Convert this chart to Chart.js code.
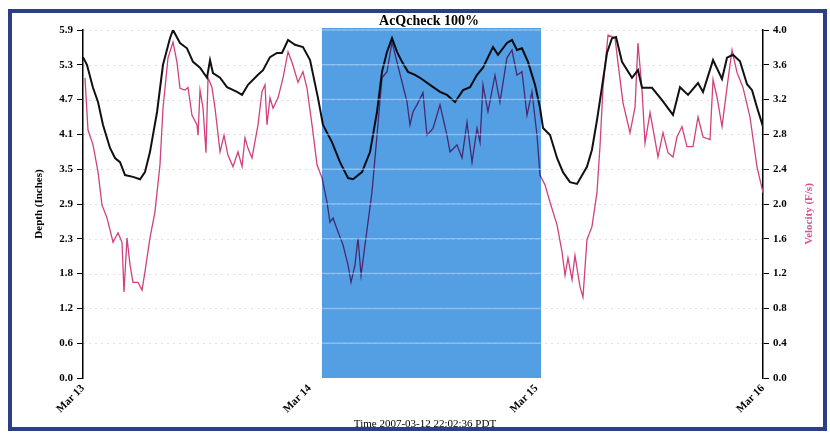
<!DOCTYPE html>
<html>
<head>
<meta charset="utf-8">
<script src="https://cdn.jsdelivr.net/npm/chart.js@4.4.0/dist/chart.umd.min.js"></script>
<style>
  body { margin: 0; background: #fff; }
  canvas { display: block; }
</style>
</head>
<body>
<canvas id="myChart" width="830" height="434"></canvas>
<script>
// x axis is hours since Mar 13 00:00
const dayLabels = ['Mar 13', 'Mar 14', 'Mar 15', 'Mar 16'];
const depthTicks = ['0.0', '0.6', '1.2', '1.8', '2.3', '2.9', '3.5', '4.1', '4.7', '5.3', '5.9'];
const velocityTicks = ['0.0', '0.4', '0.8', '1.2', '1.6', '2.0', '2.4', '2.8', '3.2', '3.6', '4.0'];
const checkWindow = [25.3, 48.5]; // hours covered by the AcQcheck band

const depthHours = [0.0, 0.42, 1.06, 1.59, 2.12, 2.86, 3.39, 3.92, 4.45, 5.29, 6.04, 6.56, 7.09, 7.84, 8.47, 9.21, 9.53,
    10.27, 11.01, 11.65, 12.39, 13.13, 13.45, 13.76, 14.51, 15.25, 16.31, 16.84, 17.47, 18.53, 19.06, 19.80, 20.54,
    21.07, 21.71, 22.45, 23.29, 24.04, 24.88, 25.41, 26.36, 27.21, 28.06, 28.59, 29.54, 30.39, 31.13, 31.66, 32.19,
    32.72, 33.25, 33.78, 34.41, 35.15, 35.68, 36.74, 37.80, 38.54, 39.39, 40.24, 40.98, 41.72, 42.35, 43.41, 43.94,
    44.89, 45.42, 45.95, 46.48, 47.12, 47.86, 48.39, 48.71, 49.45, 50.19, 50.82, 51.56, 52.31, 53.36, 53.89, 54.42,
    54.95, 55.48, 56.01, 56.44, 57.07, 58.13, 58.76, 59.19, 60.25, 61.31, 62.47, 63.21, 64.06, 65.12, 65.65, 66.71,
    67.66, 68.19, 68.82, 69.56, 70.31, 70.84, 71.36, 72.0];
const depthValues = [5.44, 5.31, 4.92, 4.68, 4.29, 3.90, 3.73, 3.66, 3.44, 3.41, 3.37, 3.49, 3.83, 4.51, 5.31, 5.76, 5.90,
    5.68, 5.59, 5.36, 5.26, 5.09, 5.39, 5.17, 5.09, 4.93, 4.85, 4.80, 4.97, 5.14, 5.22, 5.44, 5.51,
    5.51, 5.73, 5.65, 5.61, 5.39, 4.75, 4.29, 4.00, 3.66, 3.39, 3.37, 3.49, 3.83, 4.51, 5.19, 5.53,
    5.76, 5.53, 5.36, 5.19, 5.14, 5.09, 4.97, 4.85, 4.80, 4.68, 4.88, 4.93, 5.14, 5.26, 5.61, 5.48,
    5.68, 5.73, 5.56, 5.59, 5.36, 4.97, 4.58, 4.24, 4.12, 3.73, 3.49, 3.32, 3.29, 3.58, 3.87, 4.37,
    4.93, 5.51, 5.76, 5.78, 5.36, 5.09, 5.22, 4.92, 4.92, 4.71, 4.46, 4.93, 4.80, 5.00, 4.85, 5.39,
    5.07, 5.43, 5.48, 5.37, 4.98, 4.88, 4.59, 4.26];

const velocityHours = [0.21, 0.53, 1.06, 1.59, 2.01, 2.54, 3.18, 3.71, 4.13, 4.34, 4.66, 4.98, 5.29, 5.82, 6.25, 6.56,
    7.09, 7.62, 8.15, 8.47, 9.00, 9.53, 9.95, 10.27, 10.80, 11.12, 11.54, 12.07, 12.18, 12.39, 12.71, 13.02, 13.24,
    13.66, 13.98, 14.51, 14.93, 15.35, 15.88, 16.41, 16.84, 17.15, 17.47, 17.89, 18.53, 18.95, 19.27, 19.48, 19.80,
    20.12, 20.65, 21.18, 21.71, 22.13, 22.76, 23.29, 23.72, 24.25, 24.78, 25.31, 25.84, 26.15, 26.47, 27.00, 27.53,
    28.06, 28.38, 28.80, 29.12, 29.44, 29.86, 30.60, 31.13, 31.66, 32.19, 32.72, 33.25, 33.78, 34.31, 34.62, 34.94,
    35.36, 36.00, 36.42, 37.06, 37.80, 38.54, 38.86, 39.60, 40.13, 40.66, 41.19, 41.72, 42.04, 42.35, 42.88, 43.62,
    44.15, 44.89, 45.42, 45.95, 46.48, 47.01, 47.54, 48.07, 48.39, 48.92, 49.45, 50.19, 50.72, 51.04, 51.35, 51.78,
    52.09, 52.62, 52.94, 53.36, 53.89, 54.42, 54.74, 55.06, 55.59, 56.33, 56.65, 57.18, 57.92, 58.45, 58.76, 59.19,
    59.51, 60.04, 60.56, 60.88, 61.41, 61.94, 62.47, 62.89, 63.42, 63.95, 64.59, 65.12, 65.65, 66.39, 66.71, 67.13,
    67.66, 68.19, 68.72, 69.25, 69.88, 70.62, 71.36, 72.0];
const velocityValues = [3.45, 2.85, 2.68, 2.37, 1.99, 1.84, 1.56, 1.67, 1.56, 0.99, 1.61, 1.30, 1.10, 1.10, 1.01, 1.22,
    1.61, 1.91, 2.45, 3.10, 3.68, 3.86, 3.63, 3.33, 3.31, 3.34, 3.02, 2.91, 2.79, 3.31, 3.10, 2.59, 3.45,
    3.34, 3.10, 2.60, 2.79, 2.56, 2.43, 2.60, 2.43, 2.76, 2.64, 2.53, 2.91, 3.29, 3.37, 2.91, 3.22,
    3.10, 3.22, 3.45, 3.75, 3.63, 3.40, 3.52, 3.33, 2.91, 2.45, 2.30, 2.02, 1.79, 1.84, 1.68, 1.53,
    1.30, 1.10, 1.30, 1.61, 1.18, 1.53, 2.14, 2.79, 3.45, 3.52, 3.86, 3.63, 3.40, 3.17, 2.91, 3.06,
    3.14, 3.28, 2.79, 2.87, 3.14, 2.79, 2.60, 2.68, 2.53, 2.94, 2.48, 2.87, 2.71, 3.37, 3.06, 3.48,
    3.17, 3.68, 3.77, 3.48, 3.52, 3.02, 3.29, 2.79, 2.33, 2.22, 2.02, 1.76, 1.45, 1.18, 1.38, 1.13,
    1.41, 1.05, 0.93, 1.59, 1.74, 2.13, 2.66, 3.34, 3.94, 3.91, 3.62, 3.16, 2.82, 3.11, 3.85, 3.31,
    2.70, 3.05, 2.74, 2.54, 2.82, 2.59, 2.54, 2.77, 2.89, 2.66, 2.66, 3.00, 2.77, 2.74, 3.43, 3.23,
    2.89, 3.34, 3.77, 3.51, 3.34, 3.00, 2.43, 2.13];

const serif = 'Liberation Serif';
const tickFont = { family: serif, size: 11, weight: 'bold' };

const overlay = {
    id: 'overlay',
    beforeDatasetsDraw(chart) {
        const { ctx, chartArea: a, scales } = chart;
        ctx.save();
        ctx.strokeStyle = 'rgba(0,0,0,0.13)';
        ctx.setLineDash([2, 4]);
        ctx.lineWidth = 1;
        scales.y.ticks.forEach(t => {
            const y = Math.round(scales.y.getPixelForValue(t.value)) + 0.5;
            if (t.value === 0) return;
            ctx.beginPath();
            ctx.moveTo(a.left, y);
            ctx.lineTo(a.right, y);
            ctx.stroke();
        });
        ctx.restore();
    },
    afterDatasetsDraw(chart) {
        const { ctx, chartArea: a, scales } = chart;
        const x0 = scales.x.getPixelForValue(checkWindow[0]);
        const x1 = scales.x.getPixelForValue(checkWindow[1]);
        ctx.save();
        ctx.globalCompositeOperation = 'multiply';
        ctx.fillStyle = 'rgb(84,158,228)';
        ctx.fillRect(x0, a.top - 2, x1 - x0, a.bottom - a.top + 2);
        ctx.globalCompositeOperation = 'source-over';
        ctx.strokeStyle = 'rgba(190,222,252,0.55)';
        ctx.lineWidth = 1.5;
        scales.y.ticks.forEach(t => {
            if (t.value === 0) return;
            const y = scales.y.getPixelForValue(t.value);
            ctx.beginPath();
            ctx.moveTo(x0, y);
            ctx.lineTo(x1, y);
            ctx.stroke();
        });
        ctx.restore();
    },
    afterDraw(chart) {
        const { ctx } = chart;
        ctx.save();
        // scanned page frame
        ctx.strokeStyle = '#2a3f86';
        ctx.lineWidth = 4;
        ctx.strokeRect(10, 11, 815, 418);

        ctx.fillStyle = '#000';
        ctx.textAlign = 'center';
        ctx.font = 'bold 14px ' + serif;
        ctx.fillText('AcQcheck 100%', 429, 25);

        ctx.font = '11px ' + serif;
        ctx.fillText('Time 2007-03-12 22:02:36 PDT', 425, 427);

        ctx.font = 'bold 11px ' + serif;
        ctx.translate(38, 204);
        ctx.rotate(-Math.PI / 2);
        ctx.fillText('Depth (Inches)', 0, 4);
        ctx.restore();

        ctx.save();
        ctx.font = 'bold 11px ' + serif;
        ctx.textAlign = 'center';
        ctx.fillStyle = 'rgb(214,80,150)';
        ctx.translate(808, 214);
        ctx.rotate(-Math.PI / 2);
        ctx.fillText('Velocity (F/s)', 0, 4);
        ctx.restore();
    }
};

const config = {
    type: 'line',
    data: {
        datasets: [{
            label: 'Depth',
            data: depthHours.map((h, i) => ({ x: h, y: depthValues[i] })),
            borderColor: '#111',
            borderWidth: 2,
            pointRadius: 0,
            yAxisID: 'y'
        }, {
            label: 'Velocity',
            data: velocityHours.map((h, i) => ({ x: h, y: velocityValues[i] })),
            borderColor: 'rgb(208,66,126)',
            borderWidth: 1.3,
            pointRadius: 0,
            yAxisID: 'y1'
        }]
    },
    options: {
        responsive: false,
        animation: false,
        layout: { padding: { top: 30 } },
        scales: {
            x: {
                type: 'linear',
                min: 0,
                max: 72,
                grid: { display: false, drawTicks: false },
                border: { display: false },
                ticks: {
                    stepSize: 24,
                    minRotation: 45,
                    maxRotation: 45,
                    padding: 4,
                    color: '#000',
                    font: tickFont,
                    callback: (v) => dayLabels[v / 24]
                },
                afterFit: (axis) => { axis.height = 56; }
            },
            y: {
                position: 'left',
                min: 0,
                max: 5.9,
                grid: { drawOnChartArea: false, tickLength: 6, color: '#000' },
                border: { color: '#000', width: 1.5 },
                ticks: {
                    count: 11,
                    color: '#000',
                    font: tickFont,
                    padding: 4,
                    callback: (v, i) => depthTicks[i]
                },
                afterFit: (axis) => { axis.width = 83; }
            },
            y1: {
                position: 'right',
                min: 0,
                max: 4,
                grid: { drawOnChartArea: false, tickLength: 6, color: '#000' },
                border: { color: '#000', width: 1.5 },
                ticks: {
                    count: 11,
                    color: '#000',
                    font: tickFont,
                    padding: 4,
                    callback: (v, i) => velocityTicks[i]
                },
                afterFit: (axis) => { axis.width = 67; }
            }
        },
        plugins: {
            legend: { display: false },
            tooltip: { enabled: false }
        }
    },
    plugins: [overlay]
};

const ctx = document.getElementById('myChart').getContext('2d');
new Chart(ctx, config);
</script>
</body>
</html>
